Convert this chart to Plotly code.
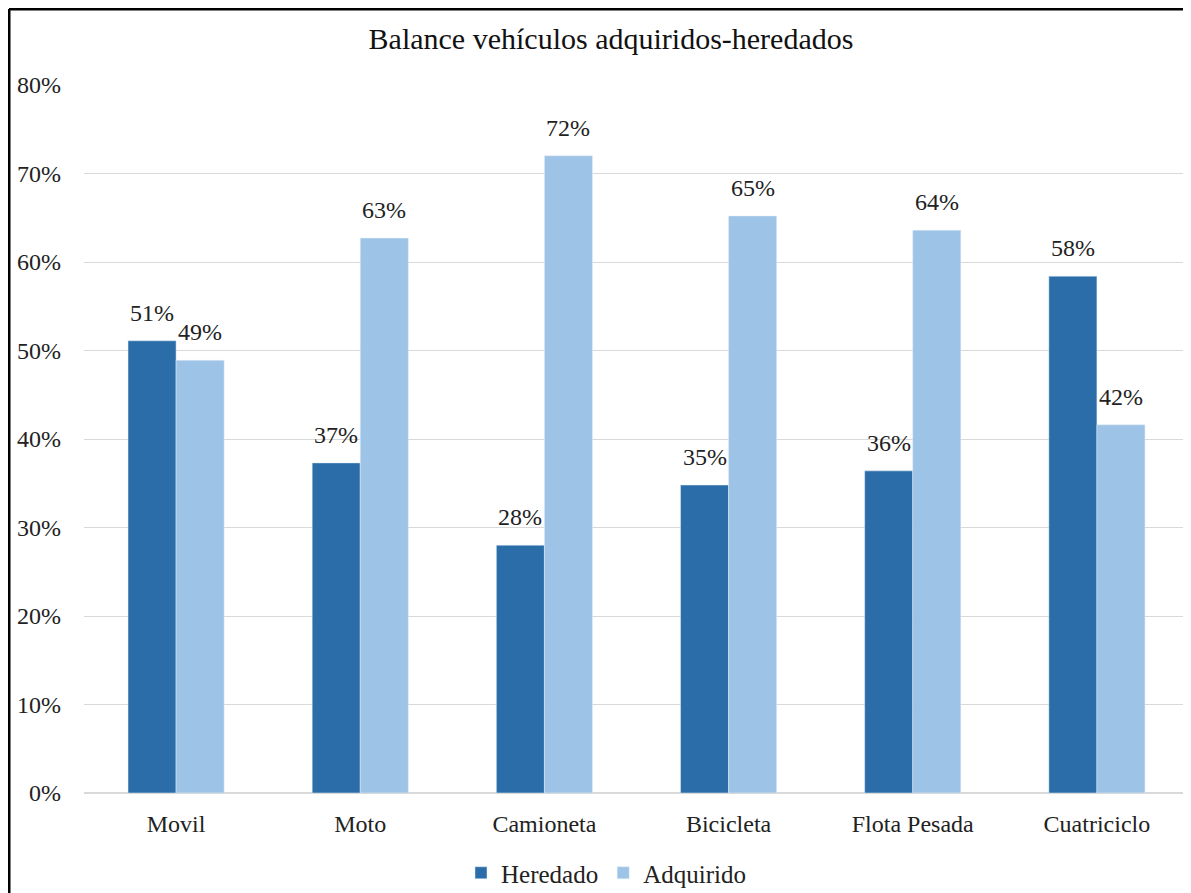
import plotly.graph_objects as go

categorias = ["Movil", "Moto", "Camioneta", "Bicicleta", "Flota Pesada", "Cuatriciclo"]
heredado = [0.511, 0.373, 0.280, 0.348, 0.364, 0.584]
adquirido = [0.489, 0.627, 0.720, 0.652, 0.636, 0.416]

# la página deja 8 px de margen: la figura ocupa el resto de la ventana
W, H = 1183, 885
ML, MR, MT, MB = 76, 2, 77, 100
pw = W - ML - MR
ph = H - MT - MB

fuente = "Liberation Serif, DejaVu Serif, serif"
bargap = 0.478
medio_bar = pw / len(categorias) * (1 - bargap) / 4  # px desde el centro de la categoría

fig = go.Figure()
fig.add_trace(go.Bar(x=categorias, y=heredado, name="Heredado", marker=dict(color="#2A6DA9")))
fig.add_trace(go.Bar(x=categorias, y=adquirido, name="Adquirido", marker=dict(color="#9DC3E6")))

# etiquetas de datos sobre cada barra
for serie, desplaz in ((heredado, -medio_bar), (adquirido, medio_bar)):
    for cat, v in zip(categorias, serie):
        fig.add_annotation(x=cat, y=v, text=f"{v:.0%}", showarrow=False,
                           xshift=desplaz, yanchor="bottom", yshift=13,
                           font=dict(size=24, color="#222222", family=fuente))

fig.update_layout(
    width=W, height=H,
    margin=dict(l=ML, r=MR, t=MT, b=MB, autoexpand=False),
    paper_bgcolor="white", plot_bgcolor="white",
    font=dict(family=fuente, size=24, color="#222222"),
    title=dict(text="Balance vehículos adquiridos-heredados", xref="container",
               x=603 / W, xanchor="center",
               y=1 - 30 / H, yanchor="middle", font=dict(size=30, color="#111111")),
    barmode="group", bargap=bargap, bargroupgap=0,
    legend=dict(orientation="h", xref="container", x=598 / W, xanchor="center",
                yref="container", y=1 - 865 / H, yanchor="middle",
                font=dict(size=25), traceorder="normal"),
)
fig.update_yaxes(range=[0, 0.8], dtick=0.1, tickformat=".0%", showgrid=True,
                 gridcolor="#D9D9D9", gridwidth=1, zeroline=True, zerolinecolor="#D9D9D9",
                 ticks="", ticklabelstandoff=22, tickfont=dict(size=24), automargin=False)
fig.update_xaxes(showline=False, ticks="", tickfont=dict(size=24), ticklabelstandoff=14,
                 automargin=False)

# marco: línea superior e izquierda
x_izq = (1 - ML) / pw
y_sup = 1 + (MT - 1) / ph
fig.add_shape(type="line", xref="paper", yref="paper", x0=x_izq, x1=1 + MR / pw,
              y0=y_sup, y1=y_sup, line=dict(color="#000000", width=3))
fig.add_shape(type="line", xref="paper", yref="paper", x0=x_izq, x1=x_izq,
              y0=-MB / ph, y1=y_sup, line=dict(color="#000000", width=3))

fig.write_html("out.html")
